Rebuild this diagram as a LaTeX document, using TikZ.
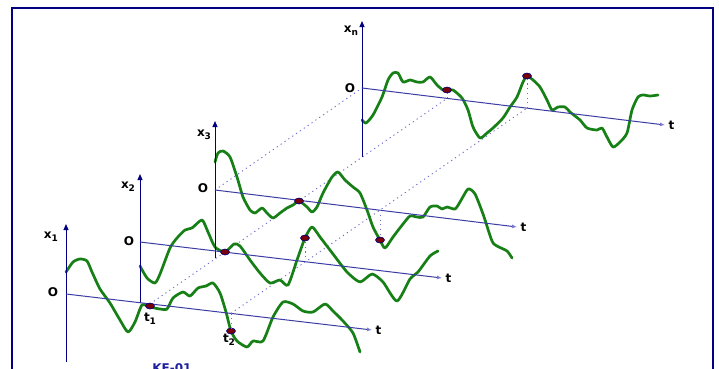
\documentclass[tikz,border=0pt]{standalone}
\usepackage{fontspec}
\setsansfont{DejaVu Sans}
\usepackage{tikz}
\usetikzlibrary{calc, arrows.meta, shapes.geometric}

\definecolor{navy}{RGB}{0,0,128}
\definecolor{taxiscol}{RGB}{60,60,165}
\definecolor{tipcol}{RGB}{120,120,215}
\definecolor{dotcol}{RGB}{110,110,205}
\definecolor{pathgreen}{RGB}{22,128,22}
\definecolor{maroonred}{RGB}{120,0,12}
\definecolor{codeblue}{RGB}{30,30,160}

\newcommand{\lsub}[1]{\raisebox{-0.45ex}{\fontsize{9}{10}\selectfont #1}}

\begin{document}
\begin{tikzpicture}[x=1pt, y=-1pt,
    lbl/.style={font=\sffamily\bfseries\fontsize{12}{13}\selectfont, text=black, inner sep=0pt},
    vaxis/.style={navy, line width=1pt, -{Triangle[width=5pt, length=6pt]}},
    taxis/.style={taxiscol, line width=1pt, -{Latex[length=5pt, width=4pt, color=tipcol]}},
    guide/.style={dotcol, dash pattern=on 1.2pt off 3.5pt, line width=0.9pt},
    realization/.style={pathgreen, line width=2.7pt, line join=round, line cap=round},
    sampledot/.style={ellipse, fill=maroonred, draw=navy, line width=0.6pt, minimum width=9pt, minimum height=6pt, inner sep=0pt}]
    \clip (0,0) rectangle (719,368);
    \fill[white] (0,0) rectangle (719,368);
    \draw[navy, line width=1.2pt] (12,380) -- (12,8) -- (713,8) -- (713,380);

    \coordinate (O1) at (66,294);
    \coordinate (O2) at (140,242);
    \coordinate (O3) at (215,190);
    \coordinate (On) at (362,88);
    \coordinate (E1) at (372,330);
    \coordinate (E2) at (442,278);
    \coordinate (E3) at (517,227);
    \coordinate (En) at (665,125);
    \coordinate (B1) at (66,362);
    \coordinate (B2) at (140,303);
    \coordinate (B3) at (215,258);
    \coordinate (Bn) at (362,157);
    \coordinate (A1) at (66,224);
    \coordinate (A2) at (140,174);
    \coordinate (A3) at (215,121);
    \coordinate (An) at (362,21);

    \coordinate (T11) at (150,303.9);
    \coordinate (T1n) at (447,98.4);
    \coordinate (T21) at (231,313.4);
    \coordinate (T22) at (305,261.9);
    \coordinate (T23) at (380,210.1);
    \coordinate (T2n) at (527,108.1);

    \draw[guide] (O3) -- (On);
    \draw[guide] (T11) -- (T1n);
    \draw[guide] (T21) -- (T2n);

    \draw[realization] plot[smooth, tension=0.4] coordinates {(66,272) (73,262) (80,259) (87,261) (92,272) (100,289) (110,303) (120,320) (128,332) (135,322) (142,305) (150,307) (160,309) (167,309) (173,298) (183,292) (190,296) (198,288) (206,286) (213,283) (220,293) (226,312) (231,331) (237,341) (247,347) (253,341) (263,341) (273,317) (283,302) (293,304) (303,311) (313,312) (325,304) (333,311) (343,321) (353,333) (360,352)};
    \draw[realization] plot[smooth, tension=0.4] coordinates {(140,266) (147,278) (155,283) (160,274) (170,248) (177,238) (185,230) (192,228) (202,220) (208,232) (215,247) (225,252) (234,244) (240,246) (250,260) (260,273) (270,283) (280,280) (288,285) (297,260) (305,238) (312,227) (320,237) (333,254) (347,272) (360,282) (372,274) (383,282) (397,301) (410,279) (418,272) (430,256) (438,251)};
    \draw[realization] plot[smooth, tension=0.4] coordinates {(215,162) (218,153) (223,151) (230,157) (237,177) (243,197) (250,210) (255,213) (262,208) (267,213) (273,218) (280,213) (287,208) (293,205) (299,201) (307,207) (312,212) (317,207) (323,193) (332,177) (338,172) (345,180) (353,187) (360,193) (367,210) (373,227) (380,240) (385,248) (393,237) (403,224) (410,216) (417,217) (423,217) (430,207) (437,206) (442,209) (447,207) (455,209) (460,202) (468,189) (475,194) (483,214) (492,241) (497,246) (507,251) (512,258)};
    \draw[realization] plot[smooth, tension=0.4] coordinates {(362,120) (366,123) (373,115) (382,97) (388,80) (393,73) (398,73) (403,82) (410,80) (417,82) (423,82) (430,77) (437,85) (443,90) (447,90) (453,90) (462,98) (468,110) (473,127) (480,138) (487,133) (493,128) (503,118) (510,107) (517,97) (523,82) (527,76) (533,80) (540,87) (547,100) (552,110) (558,107) (565,107) (570,112) (580,120) (587,128) (597,130) (602,128) (607,137) (613,147) (620,142) (627,133) (632,110) (638,97) (643,95) (650,96) (658,95)};

    \draw[vaxis] (B1) -- (A1);
    \draw[vaxis] (B2) -- (A2);
    \draw[vaxis] (B3) -- (A3);
    \draw[vaxis] (Bn) -- (An);
    \draw[taxis] (O1) -- (E1) node[lbl, right=3pt] (tl1) {t};
    \draw[taxis] (O2) -- (E2) node[lbl, right=3pt] (tl2) {t};
    \draw[taxis] (O3) -- (E3) node[lbl, right=3pt] (tl3) {t};
    \draw[taxis] (On) -- (En) node[lbl, right=3pt] (tln) {t};

    \node[sampledot] (m11) at (150,306) {};
    \node[sampledot] (m21) at (231,331) {};
    \node[sampledot] (m12) at (225,252) {};
    \node[sampledot] (m22) at (305,238) {};
    \node[sampledot] (m13) at (299,201) {};
    \node[sampledot] (m23) at (380,240) {};
    \node[sampledot] (m1n) at (447,90) {};
    \node[sampledot] (m2n) at (527,76) {};

    \draw[guide] (T1n) -- (m1n);
    \draw[guide] (T21) -- (m21);
    \draw[guide] (T22) -- (m22);
    \draw[guide] (T23) -- (m23);
    \draw[guide] (T2n) -- (m2n);

    \node[lbl] (xl1) at (51,237) {x\lsub{1}};
    \node[lbl] (ol1) at (53,292) {O};
    \node[lbl] (xl2) at (128,187) {x\lsub{2}};
    \node[lbl] (ol2) at (129,241) {O};
    \node[lbl] (xl3) at (204,135) {x\lsub{3}};
    \node[lbl] (ol3) at (203,188) {O};
    \node[lbl] (xln) at (351,31) {x\lsub{n}};
    \node[lbl] (oln) at (350,88) {O};
    \node[lbl] (tt1) at (150,319) {t\lsub{1}};
    \node[lbl] (tt2) at (229,340) {t\lsub{2}};
    \node[lbl, text=codeblue, anchor=north] (code) at (172,363) {KE-01};
\end{tikzpicture}
\end{document}
